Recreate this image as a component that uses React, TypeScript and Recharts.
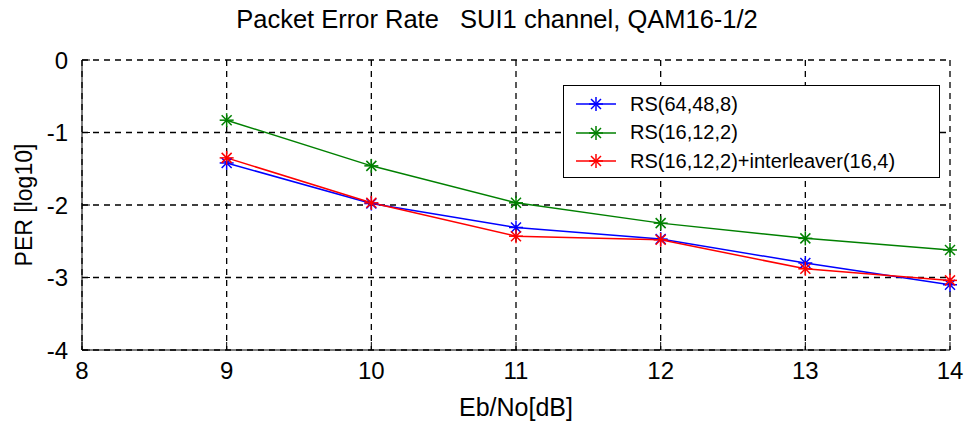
import React from "react";
import {
    LineChart,
    Line,
    XAxis,
    YAxis,
    CartesianGrid,
    Label,
} from "recharts";

// Eb/No in dB, PER values as log10
const ebNo = [9, 10, 11, 12, 13, 14];
const rs64 = [-1.42, -1.98, -2.31, -2.47, -2.8, -3.1];
const rs16 = [-0.83, -1.46, -1.97, -2.25, -2.46, -2.62];
const rs16Inter = [-1.35, -1.97, -2.43, -2.48, -2.88, -3.04];

const xTicks = [8, 9, 10, 11, 12, 13, 14];
const yTicks = [-4, -3, -2, -1, 0];

const seriesNames = ["RS(64,48,8)", "RS(16,12,2)", "RS(16,12,2)+interleaver(16,4)"];
const seriesColors = ["#0000ff", "#008000", "#ff0000"];

const FONT = '"Liberation Sans", Arial, sans-serif';

const chartData = ebNo.map((x, i) => ({
    x,
    a: rs64[i],
    b: rs16[i],
    c: rs16Inter[i],
}));

// matlab-style '*' marker
function Star({ cx, cy, color }: { cx: number; cy: number; color: string }) {
    if (cx == null || cy == null) return null;
    const r = 7;
    const d = 5;
    return (
        <g stroke={color} strokeWidth={1.5}>
            <line x1={cx - r} y1={cy} x2={cx + r} y2={cy} />
            <line x1={cx} y1={cy - r} x2={cx} y2={cy + r} />
            <line x1={cx - d} y1={cy - d} x2={cx + d} y2={cy + d} />
            <line x1={cx - d} y1={cy + d} x2={cx + d} y2={cy - d} />
        </g>
    );
}

function LegendBox() {
    return (
        <div
            style={{
                position: "absolute",
                left: 563,
                top: 85,
                border: "1.5px solid #000",
                background: "#fff",
                width: 377,
                height: 93,
                boxSizing: "border-box",
                padding: "4px 0 0 10px",
                fontFamily: FONT,
                fontSize: 20,
                color: "#000",
            }}
        >
            {seriesNames.map((name, i) => (
                <div key={name} style={{ display: "flex", alignItems: "center", height: 28.5 }}>
                    <svg width={56} height={20}>
                        <line x1={2} y1={10} x2={42} y2={10} stroke={seriesColors[i]} strokeWidth={1.5} />
                        <Star cx={22} cy={10} color={seriesColors[i]} />
                    </svg>
                    <span>{name}</span>
                </div>
            ))}
        </div>
    );
}

export default function App() {
    const tickStyle = { fill: "#000", fontSize: 24, fontFamily: FONT };
    const labelStyle = { fill: "#000", fontSize: 25, fontFamily: FONT };
    return (
        <div style={{ position: "absolute", left: 0, top: 0, width: 965, height: 423, background: "#fff" }}>
            <div
                style={{
                    position: "absolute",
                    left: 0,
                    top: 5,
                    width: 994,
                    textAlign: "center",
                    fontFamily: FONT,
                    fontSize: 25.5,
                    color: "#000",
                    whiteSpace: "pre",
                }}
            >
                {"Packet Error Rate   SUI1 channel, QAM16-1/2"}
            </div>
            <div style={{ position: "absolute", left: 0, top: 0 }}>
                <LineChart
                    width={965}
                    height={423}
                    data={chartData}
                    margin={{ top: 60, right: 15, bottom: 0, left: 0 }}
                >
                    <CartesianGrid
                        stroke="#000"
                        strokeWidth={1.3}
                        strokeDasharray="6 5"
                        horizontalValues={yTicks}
                        verticalValues={xTicks}
                    />
                    <XAxis
                        dataKey="x"
                        type="number"
                        domain={[8, 14]}
                        ticks={xTicks}
                        height={73}
                        stroke="#000"
                        tickSize={-8}
                        tickMargin={20}
                        tick={tickStyle}
                        interval={0}
                    >
                        <Label value="Eb/No[dB]" position="insideBottom" offset={7} style={labelStyle} />
                    </XAxis>
                    <YAxis
                        type="number"
                        domain={[-4, 0]}
                        ticks={yTicks}
                        width={82}
                        stroke="#000"
                        tickSize={-8}
                        tickMargin={22}
                        tick={tickStyle}
                        interval={0}
                    >
                        <Label
                            value="PER [log10]"
                            angle={-90}
                            position="insideLeft"
                            offset={24}
                            style={{ ...labelStyle, fontSize: 23, textAnchor: "middle" }}
                        />
                    </YAxis>
                    <Line
                        dataKey="a"
                        stroke={seriesColors[0]}
                        strokeWidth={1.5}
                        dot={(p: any) => <Star key={"a" + p.index} cx={p.cx} cy={p.cy} color={seriesColors[0]} />}
                        isAnimationActive={false}
                    />
                    <Line
                        dataKey="b"
                        stroke={seriesColors[1]}
                        strokeWidth={1.5}
                        dot={(p: any) => <Star key={"b" + p.index} cx={p.cx} cy={p.cy} color={seriesColors[1]} />}
                        isAnimationActive={false}
                    />
                    <Line
                        dataKey="c"
                        stroke={seriesColors[2]}
                        strokeWidth={1.5}
                        dot={(p: any) => <Star key={"c" + p.index} cx={p.cx} cy={p.cy} color={seriesColors[2]} />}
                        isAnimationActive={false}
                    />
                </LineChart>
            </div>
            <LegendBox />
        </div>
    );
}
